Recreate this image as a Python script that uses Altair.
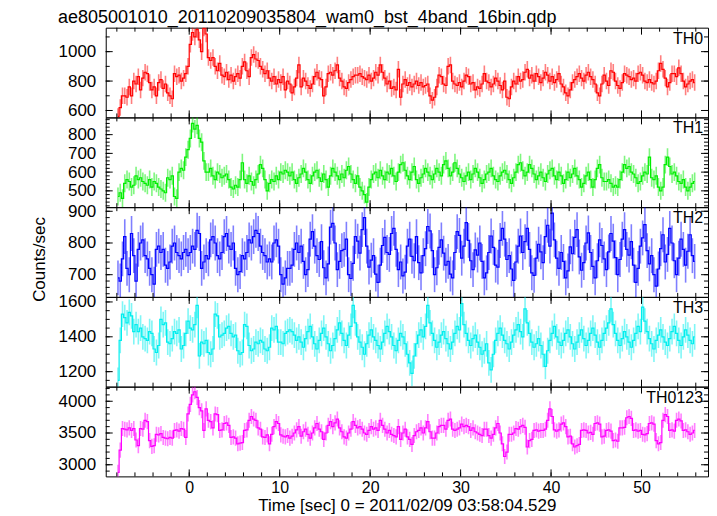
import math
import altair as alt
import pandas as pd
import numpy as np

FONT = "Liberation Sans"
T_START = -8.0
BIN = 0.25

TH0 = [
    560, 620, 700, 700, 690, 760, 700, 800,
    780, 830, 740, 820, 860, 850, 790, 740,
    760, 700, 790, 810, 750, 780, 720, 700,
    680, 850, 830, 840, 800, 820, 850, 900,
    1050, 1130, 1100, 1150, 1080, 1000, 1160, 1120,
    960, 940, 960, 900, 870, 920, 840, 830,
    860, 810, 840, 800, 830, 850, 820, 900,
    930, 870, 830, 960, 980, 950, 940, 900,
    880, 850, 870, 820, 800, 830, 780, 810,
    790, 830, 740, 800, 780, 720, 760, 820,
    910, 760, 820, 800, 770, 750, 780, 830,
    860, 820, 810, 700, 760, 850, 860, 840,
    870, 910, 820, 800, 760, 750, 790, 810,
    830, 840, 840, 850, 830, 820, 810, 840,
    800, 820, 860, 840, 910, 860, 820, 780,
    800, 750, 760, 740, 880, 690, 780, 810,
    770, 790, 760, 780, 800, 770, 790, 760,
    770, 780, 700, 670, 690, 760, 840, 830,
    780, 770, 900, 910, 800, 780, 770, 790,
    760, 800, 840, 830, 780, 790, 740, 760,
    750, 780, 850, 800, 790, 760, 780, 820,
    800, 770, 740, 800, 690, 680, 760, 800,
    780, 830, 800, 810, 860, 880, 820, 840,
    800, 850, 830, 790, 820, 860, 840, 800,
    830, 790, 810, 850, 780, 760, 720, 700,
    740, 790, 810, 830, 850, 820, 800, 840,
    860, 830, 810, 780, 720, 700, 780, 840,
    800, 770, 870, 860, 800, 770, 750, 790,
    850, 840, 830, 810, 820, 800, 850, 860,
    840, 800, 790, 810, 790, 780, 800, 870,
    920, 880, 820, 760, 790, 850, 850, 830,
    890, 850, 800, 760, 780, 800, 810, 790,
]

TH1 = [
    470, 490, 460, 540, 560, 550, 520, 530,
    580, 560, 570, 550, 540, 530, 560, 520,
    550, 540, 520, 510, 500, 490, 570, 560,
    580, 470, 460, 600, 620, 610, 680, 720,
    780, 860, 830, 850, 780, 760, 660, 600,
    600, 620, 580, 560, 600, 590, 570, 580,
    590, 560, 520, 510, 530, 520, 560, 650,
    560, 540, 580, 550, 530, 560, 590, 640,
    620, 560, 500, 540, 560, 550, 580, 560,
    600, 590, 610, 600, 580, 600, 560, 540,
    570, 590, 620, 600, 560, 540, 580, 600,
    610, 570, 550, 590, 560, 520, 580, 620,
    600, 580, 560, 590, 570, 610, 630, 590,
    560, 540, 580, 520, 500, 480, 440, 520,
    560, 590, 600, 570, 610, 580, 560, 600,
    590, 620, 580, 550, 600, 640, 650, 610,
    580, 560, 600, 630, 560, 540, 570, 590,
    620, 600, 580, 560, 590, 620, 600, 580,
    640, 660, 620, 580, 600, 650, 620, 590,
    570, 550, 580, 600, 560, 590, 620, 600,
    570, 540, 560, 590, 600, 620, 580, 560,
    550, 580, 600, 610, 590, 560, 540, 570,
    600, 640, 650, 610, 580, 600, 640, 620,
    590, 560, 580, 600, 570, 550, 590, 610,
    620, 580, 560, 600, 580, 540, 560, 600,
    570, 590, 620, 580, 560, 520, 540, 580,
    600, 560, 520, 560, 620, 640, 570, 550,
    550, 560, 540, 520, 530, 520, 560, 600,
    640, 620, 630, 600, 590, 570, 540, 550,
    580, 600, 590, 680, 570, 560, 580, 520,
    500, 520, 640, 680, 630, 590, 600, 580,
    550, 540, 560, 520, 500, 520, 540, 550,
]

TH2 = [
    690, 680, 750, 820, 720, 700, 830, 760,
    680, 780, 800, 810, 760, 750, 720, 700,
    670, 780, 790, 770, 780, 730, 720, 740,
    790, 800, 770, 760, 750, 770, 780, 760,
    770, 790, 780, 840, 830, 720, 740, 760,
    750, 810, 820, 800, 760, 750, 770, 820,
    830, 790, 780, 800, 720, 700, 710, 760,
    750, 770, 810, 800, 820, 840, 830, 790,
    770, 760, 740, 750, 740, 800, 810, 790,
    700, 670, 690, 720, 720, 730, 780, 800,
    770, 790, 742, 700, 716, 812, 836, 790,
    760, 748, 804, 722, 690, 734, 850, 862,
    800, 716, 742, 776, 780, 812, 700, 688,
    736, 820, 806, 768, 842, 880, 790, 724,
    746, 760, 702, 676, 730, 792, 818, 770,
    764, 830, 846, 780, 716, 740, 696, 708,
    790, 812, 758, 744, 820, 738, 706, 760,
    782, 852, 838, 776, 700, 722, 786, 810,
    768, 730, 742, 702, 690, 770, 836, 824,
    752, 790, 864, 808, 744, 716, 778, 762,
    800, 742, 690, 706, 770, 822, 786, 730,
    724, 808, 846, 812, 748, 760, 718, 682,
    740, 790, 822, 770, 804, 846, 780, 706,
    698, 752, 796, 772, 738, 820, 856, 790,
    894, 810, 752, 720, 770, 742, 690, 712,
    788, 766, 818, 842, 756, 714, 738, 800,
    832, 770, 726, 690, 744, 810, 792, 750,
    716, 772, 830, 806, 754, 700, 748, 812,
    842, 780, 762, 804, 730, 676, 720, 790,
    816, 858, 776, 734, 760, 700, 664, 718,
    782, 826, 740, 764, 846, 800, 744, 700,
    752, 812, 780, 730, 774, 826, 760, 742,
]

TH3 = [
    1150, 1380, 1530, 1510, 1480, 1540, 1520, 1430,
    1470, 1430, 1450, 1400, 1390, 1380, 1430, 1420,
    1330, 1310, 1350, 1500, 1470, 1480, 1370, 1360,
    1390, 1430, 1420, 1440, 1330, 1350, 1420, 1490,
    1450, 1440, 1470, 1580, 1290, 1370, 1360, 1380,
    1310, 1300, 1330, 1530, 1520, 1400, 1410, 1420,
    1450, 1460, 1420, 1400, 1410, 1320, 1300, 1310,
    1470, 1460, 1350, 1320, 1330, 1370, 1360, 1380,
    1370, 1330, 1320, 1340, 1450, 1440, 1460, 1370,
    1370, 1360, 1420, 1430, 1440, 1430, 1410, 1380,
    1400, 1370, 1340, 1390, 1430, 1460, 1400, 1360,
    1330, 1380, 1420, 1450, 1400, 1360, 1320, 1350,
    1390, 1440, 1480, 1420, 1380, 1350, 1410, 1460,
    1580, 1480, 1400, 1370, 1340, 1300, 1360, 1410,
    1440, 1400, 1380, 1350, 1330, 1370, 1420, 1460,
    1430, 1400, 1350, 1320, 1380, 1420, 1400, 1360,
    1300, 1250, 1190, 1290, 1360, 1410, 1440, 1400,
    1460, 1580, 1480, 1420, 1380, 1340, 1370, 1410,
    1430, 1390, 1360, 1330, 1370, 1420, 1460, 1440,
    1590, 1470, 1420, 1380, 1350, 1390, 1410, 1370,
    1340, 1300, 1320, 1360, 1250, 1210, 1300, 1380,
    1420, 1450, 1410, 1380, 1360, 1330, 1370, 1410,
    1440, 1470, 1430, 1400, 1560, 1480, 1420, 1370,
    1340, 1360, 1390, 1350, 1300, 1230, 1320, 1380,
    1420, 1460, 1400, 1370, 1350, 1380, 1420, 1440,
    1400, 1360, 1330, 1370, 1410, 1440, 1390, 1350,
    1380, 1420, 1450, 1410, 1370, 1340, 1380, 1420,
    1450, 1480, 1560, 1470, 1420, 1380, 1350, 1390,
    1430, 1400, 1370, 1340, 1380, 1420, 1460, 1430,
    1570, 1490, 1430, 1390, 1360, 1330, 1380, 1410,
    1440, 1400, 1370, 1350, 1390, 1430, 1460, 1420,
    1380, 1350, 1400, 1440, 1410, 1380, 1360, 1400,
]

TH0123 = [
    2880, 3230, 3570, 3560, 3550, 3580, 3540, 3570,
    3390, 3300, 3570, 3560, 3700, 3680, 3380, 3290,
    3300, 3480, 3470, 3490, 3430, 3420, 3410, 3430,
    3420, 3540, 3550, 3530, 3570, 3560, 3430, 3800,
    3950, 4100, 4150, 4060, 3900, 3850, 3540, 3880,
    3700, 3680, 3580, 3800, 3790, 3540, 3550, 3650,
    3660, 3620, 3430, 3440, 3420, 3330, 3340, 3350,
    3540, 3550, 3700, 3760, 3720, 3700, 3580, 3560,
    3440, 3430, 3470, 3330, 3480, 3600, 3680, 3650,
    3470, 3450, 3440, 3460, 3420, 3450, 3500, 3550,
    3600, 3450, 3520, 3560, 3480, 3420, 3500, 3580,
    3650, 3560, 3520, 3400, 3500, 3620, 3680, 3600,
    3660, 3720, 3580, 3520, 3440, 3420, 3500, 3560,
    3680, 3620, 3580, 3600, 3560, 3500, 3480, 3540,
    3600, 3560, 3580, 3540, 3700, 3620, 3560, 3500,
    3540, 3480, 3460, 3440, 3600, 3400, 3500, 3560,
    3440, 3400, 3320, 3460, 3520, 3540, 3580, 3500,
    3580, 3680, 3520, 3420, 3420, 3500, 3600, 3620,
    3620, 3560, 3700, 3720, 3560, 3540, 3560, 3580,
    3640, 3600, 3620, 3600, 3540, 3580, 3520, 3500,
    3480, 3460, 3560, 3560, 3460, 3420, 3480, 3580,
    3650, 3500, 3330, 3130, 3200, 3480, 3480, 3500,
    3570, 3560, 3600, 3620, 3590, 3280, 3380, 3400,
    3540, 3550, 3530, 3540, 3540, 3560, 3700, 3880,
    3760, 3550, 3530, 3550, 3640, 3660, 3600, 3440,
    3450, 3330, 3280, 3300, 3320, 3540, 3550, 3540,
    3500, 3510, 3480, 3650, 3660, 3640, 3440, 3450,
    3540, 3550, 3530, 3380, 3390, 3370, 3580, 3580,
    3590, 3740, 3760, 3730, 3540, 3550, 3530, 3540,
    3480, 3470, 3490, 3650, 3660, 3640, 3380, 3330,
    3350, 3700, 3790, 3760, 3540, 3550, 3530, 3700,
    3720, 3690, 3540, 3550, 3520, 3480, 3500, 3540,
]

SERIES = [TH0, TH1, TH2, TH3, TH0123]
NAMES = ["TH0", "TH1", "TH2", "TH3", "TH0123"]
COLORS = ["#ff0000", "#00ee00", "#0000ff", "#00eeee", "#ff00ff"]
ERRS = [56, 48, 55, 74, 119]
DOMAINS = [[553, 1163], [413, 892], [630, 913], [1114, 1629], [2817, 4230]]
MAJOR_Y = [[600, 800, 1000], [500, 600, 700, 800], [700, 800, 900],
           [1200, 1400, 1600], [3000, 3500, 4000]]
MINOR_STEP = [100, 20, 20, 50, 100]
X_LABELS = [0, 10, 20, 30, 40, 50]
X_MINOR = list(range(-8, 57, 2))
X_DOMAIN = [-9.23, 57.35]
X_TITLE = "Time [sec] 0 = 2011/02/09 03:58:04.529"
Y_TITLE = "Counts/sec"
TITLE = "ae805001010_20110209035804_wam0_bst_4band_16bin.qdp"

W, H = 604, 90


def panel(i):
    vals = SERIES[i]
    n = len(vals)
    t = T_START + BIN * (np.arange(n) + 0.5)
    df = pd.DataFrame({"t": t, "v": vals})
    df["lo"] = df["v"] - ERRS[i]
    df["hi"] = df["v"] + ERRS[i]
    xs = alt.Scale(domain=X_DOMAIN, nice=False, zero=False)
    ys = alt.Scale(domain=DOMAINS[i], nice=False, zero=False)
    last = i == len(SERIES) - 1
    if last:
        xaxis = alt.Axis(values=X_LABELS, ticks=False, domain=False, grid=False, format="d",
                         labelFontSize=16, labelPadding=3, title=X_TITLE, titlePadding=2)
    else:
        xaxis = None
    if i == 2:
        yaxis = alt.Axis(values=MAJOR_Y[i], ticks=False, domain=False, grid=False, format="d",
                         labelPadding=10, title=Y_TITLE, titleX=-66, titleY=52,
                         titleAngle=270, titleAlign="center", titleBaseline="middle")
    else:
        yaxis = alt.Axis(values=MAJOR_Y[i], ticks=False, domain=False, grid=False, format="d",
                         labelPadding=10, title="")

    def X(f):
        return alt.X(f, type="quantitative", scale=xs, axis=xaxis)

    def Y(f):
        return alt.Y(f, type="quantitative", scale=ys, axis=yaxis)

    col = COLORS[i]
    layers = []
    layers.append(alt.Chart(df).mark_rule(color=col, strokeWidth=1.6, opacity=0.5, clip=True)
                  .encode(x=X("t"), y=Y("lo"), y2="hi"))
    layers.append(alt.Chart(df).mark_line(color=col, strokeWidth=1.2, interpolate="step", clip=True)
                  .encode(x=X("t"), y=Y("v")))

    # x ticks (inward, top and bottom)
    for vals_t, ln in ((X_LABELS, 7), (X_MINOR, 4)):
        d = pd.DataFrame({"xt": vals_t})
        for y0, y1 in ((0, ln), (H, H - ln)):
            layers.append(alt.Chart(d).mark_rule(color="black", strokeWidth=1)
                          .encode(x=X("xt"), y=alt.value(y0), y2=alt.value(y1)))
    # y ticks (inward, left and right)
    step = MINOR_STEP[i]
    lo, hi = DOMAINS[i]
    minor = list(range(int(math.ceil(lo / step) * step), int(hi) + 1, step))
    for vals_y, ln in ((MAJOR_Y[i], 7), (minor, 4)):
        d = pd.DataFrame({"yt": vals_y})
        for x0, x1 in ((0, ln), (W, W - ln)):
            layers.append(alt.Chart(d).mark_rule(color="black", strokeWidth=1)
                          .encode(y=Y("yt"), x=alt.value(x0), x2=alt.value(x1)))
    lab = pd.DataFrame({"name": [NAMES[i]]})
    layers.append(alt.Chart(lab).mark_text(align="right", baseline="alphabetic", font=FONT,
                                           fontSize=16, color="black")
                  .encode(x=alt.value(W - 5), y=alt.value(16), text="name:N"))
    ch = alt.layer(*layers).properties(width=W, height=H)
    if i == 0:
        ch = ch.properties(title=alt.TitleParams(TITLE, anchor="start", font=FONT, fontSize=18,
                                                 fontWeight="normal", offset=0, color="black"))
    return ch


chart = alt.vconcat(*[panel(i) for i in range(len(SERIES))], spacing=0, bounds="flush").resolve_scale(
    y="independent"
).properties(
    padding={"left": 22, "top": 0, "right": 0, "bottom": 0}
).configure_view(
    stroke="black", strokeWidth=1
).configure_axis(
    labelFont=FONT, labelFontSize=17, labelColor="black",
    titleFont=FONT, titleFontSize=17, titleFontWeight="normal", titleColor="black"
)

chart.save("out.html", embed_options={"renderer": "svg", "actions": False})
